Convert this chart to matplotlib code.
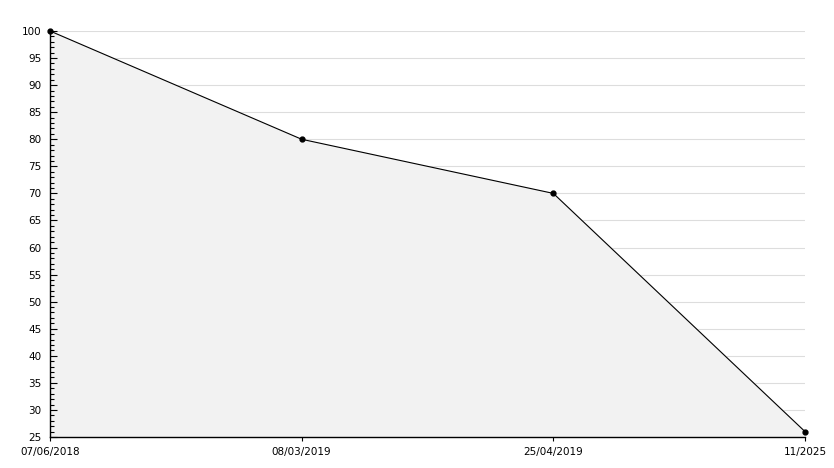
import matplotlib.pyplot as plt
from matplotlib.ticker import MultipleLocator

dates = ["07/06/2018", "08/03/2019", "25/04/2019", "11/2025"]
values = [100, 80, 70, 26]
y_min, y_max = 25, 100

fig = plt.figure(figsize=(8.34, 4.68), dpi=100)
ax = fig.add_axes([50 / 834, 31 / 468, 755 / 834, 406 / 468])

x = list(range(len(dates)))

ax.set_xlim(0, len(dates) - 1)
ax.set_ylim(y_min, y_max)
ax.set_xticks(x)
ax.set_xticklabels(dates)
ax.yaxis.set_major_locator(MultipleLocator(5))
ax.yaxis.set_minor_locator(MultipleLocator(1))

# grid behind the filled area, ticks stay on top
for yv in ax.get_yticks():
    if y_min < yv <= y_max:
        ax.axhline(yv, color="#dddddd", linewidth=0.8, zorder=0)

ax.fill_between(x, values, y_min, color="#f2f2f2", zorder=1)
ax.plot(x, values, color="black", linewidth=0.8, marker="o", markersize=3.5,
        zorder=3, clip_on=False)

for side in ("top", "right"):
    ax.spines[side].set_visible(False)
ax.spines["left"].set_linewidth(1)
ax.spines["bottom"].set_linewidth(1)

ax.tick_params(axis="y", which="major", direction="in", length=5, width=0.8, labelsize=7.5, pad=6)
ax.tick_params(axis="y", which="minor", direction="in", length=3, width=0.8)
ax.tick_params(axis="x", direction="out", length=3, width=0.8, labelsize=7.5, pad=4)

fig.savefig("out.png", dpi=100)
